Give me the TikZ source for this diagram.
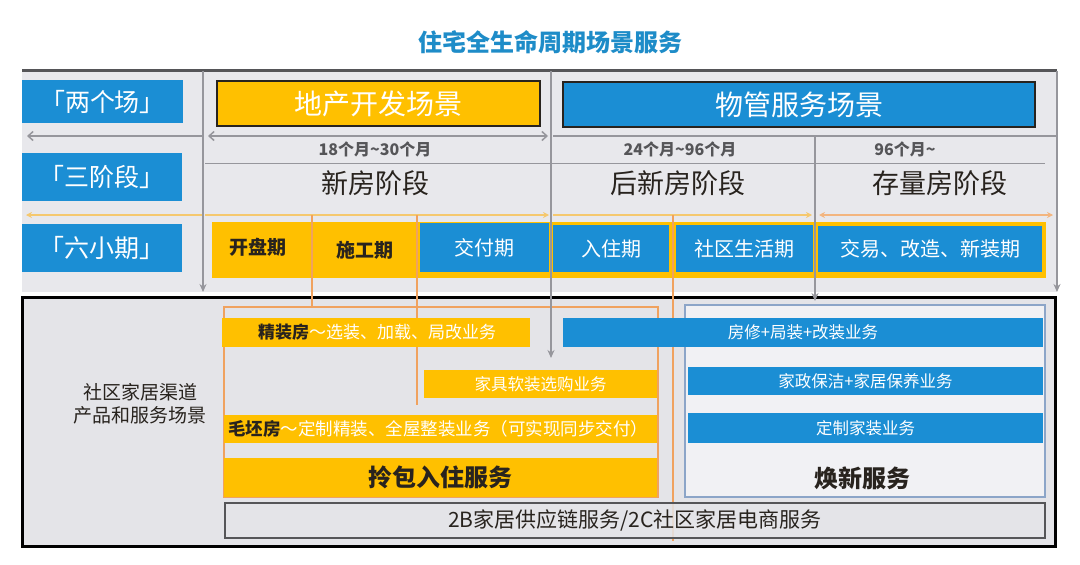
\documentclass[tikz,border=0pt]{standalone}
\usepackage{fontspec}
\setmainfont{Noto Sans CJK SC}
\usetikzlibrary{arrows.meta}
\definecolor{cblue}{RGB}{27,142,212}
\definecolor{cyel}{RGB}{255,192,0}
\definecolor{corg}{RGB}{240,162,95}
\definecolor{cline}{RGB}{245,200,110}
\definecolor{cpanel}{RGB}{232,232,236}
\definecolor{cbox}{RGB}{228,228,232}
\definecolor{ctitle}{RGB}{30,140,200}
\definecolor{cgray}{RGB}{150,150,156}
\definecolor{cdarkgray}{RGB}{85,85,88}
\definecolor{cframe}{RGB}{140,165,200}
\definecolor{ctext}{RGB}{40,35,30}
\newcommand{\fs}[1]{\fontsize{#1}{#1}\selectfont}
\tikzset{
  lblbox/.style={fill=cblue,text=white,inner sep=0pt,font=\fs{25}},
  scenebox/.style={draw=ctext,line width=1.2pt,inner sep=0pt,text=white,font=\fs{28}},
  ybar/.style={fill=cyel,inner sep=0pt},
  bbar/.style={fill=cblue,inner sep=0pt,text=white,font=\fs{16.5}},
  period/.style={font=\fs{20}},
  stage/.style={font=\fs{27},text=ctext},
  month/.style={font=\bfseries\fs{16},text=cdarkgray},
  gline/.style={draw=cgray,line width=1.8pt},
  oline/.style={draw=corg,line width=2.2pt},
  garrow/.style={-{Stealth[length=8pt,width=7pt]}},
}
\begin{document}
\begin{tikzpicture}[x=1pt,y=-1pt]
\useasboundingbox[fill=white] (0,0) rectangle (1080,565);

% title
\node[font=\bfseries\fs{24},text=ctitle] (title) at (550,42) {住宅全生命周期场景服务};

% top panel
\fill[cpanel] (22,70) rectangle (1057,292);
\draw[cdarkgray,line width=3pt] (22,70) -- (1057,70);

% left labels
\node[lblbox,minimum width=161pt,minimum height=43pt] (two) at (102.5,101.5) {「两个场」};
\node[lblbox,minimum width=160pt,minimum height=48pt] (three) at (102,177) {「三阶段」};
\node[lblbox,minimum width=160pt,minimum height=48pt] (six) at (102,248) {「六小期」};

% scene boxes
\node[scenebox,fill=cyel,minimum width=323pt,minimum height=45pt] (dev) at (378.5,103.5) {地产开发场景};
\node[scenebox,fill=cblue,minimum width=472pt,minimum height=45pt] (pm) at (799,104.5) {物管服务场景};

% coordinates for lines
\coordinate (v1t) at (203,71);   \coordinate (v1b) at (203,292);
\coordinate (v2t) at (551,71);   \coordinate (v2b) at (551,358);
\coordinate (v3t) at (815,137);  \coordinate (v3b) at (815,301);
\coordinate (v4t) at (1057,71);  \coordinate (v4b) at (1057,292);
\coordinate (h1a) at (203,136);  \coordinate (h1b) at (27,136);
\coordinate (h2a) at (208,136);  \coordinate (h2b) at (548,136);
\coordinate (h3a) at (553,136);  \coordinate (h3b) at (1057,136);
\coordinate (t1a) at (205,163);  \coordinate (t1b) at (1045,163);
\coordinate (o1a) at (203,215);  \coordinate (o1b) at (26,215);
\coordinate (o2a) at (205,215);  \coordinate (o2b) at (549,215);
\coordinate (o3a) at (553,215);  \coordinate (o3b) at (812,215);
\coordinate (o4a) at (819,215);  \coordinate (o4b) at (1053,215);
\coordinate (p1t) at (312,215);  \coordinate (p1b) at (312,307);
\coordinate (p2t) at (417,215);  \coordinate (p2b) at (417,405);
\coordinate (p3t) at (673,215);  \coordinate (p3b) at (673,541);

% month / stage texts
\draw[draw=cgray,line width=1pt] (t1a) -- (t1b);
\node[month] (m1) at (375,149) {18个月\textasciitilde30个月};
\node[month] (m2) at (680,149) {24个月\textasciitilde96个月};
\node[month] (m3) at (905,149) {96个月\textasciitilde};
\node[stage] (s1) at (375,183) {新房阶段};
\node[stage] (s2) at (678,183) {后新房阶段};
\node[stage] (s3) at (940,183) {存量房阶段};

% gray horizontal arrows
\draw[gline,line width=1.5pt,-{Straight Barb[length=5pt,width=9pt]}] (h1a) -- (h1b);
\draw[gline,line width=1.5pt,{Straight Barb[length=5pt,width=9pt]}-{Straight Barb[length=5pt,width=9pt]}] (h2a) -- (h2b);
\draw[gline,line width=1.5pt] (h3a) -- (h3b);

% yellow/orange timeline
\draw[draw=cline,line width=2.2pt,-{Stealth[length=6pt,width=6pt]}] (o1a) -- (o1b);
\draw[draw=cline,line width=2.2pt,-{Stealth[length=6pt,width=6pt]}] (o2a) -- (o2b);
\draw[draw=cline,line width=2.2pt,-{Stealth[length=6pt,width=6pt]}] (o3a) -- (o3b);
\draw[draw=corg!80,line width=2pt,{Stealth[length=6pt,width=6pt]}-{Stealth[length=6pt,width=6pt]}] (o4a) -- (o4b);

% six periods row
\node[ybar,minimum width=834pt,minimum height=56pt] (rowbg) at (629,250) {};
\node[bbar,period,minimum width=129pt,minimum height=49pt] (jf) at (484.5,247.5) {交付期};
\node[bbar,period,minimum width=116pt,minimum height=47pt] (rz) at (611,248.5) {入住期};
\node[bbar,period,minimum width=137pt,minimum height=47pt] (sq) at (744.5,248.5) {社区生活期};
\node[bbar,period,minimum width=224pt,minimum height=46pt] (jy) at (930,249) {交易、改造、新装期};
\node[period,text=ctext,font=\bfseries\fs{19}] (kp) at (258,247) {开盘期};
\node[period,text=ctext,font=\bfseries\fs{19}] (sg) at (365,250) {施工期};

% lower box
\draw[fill=cbox,line width=3pt] (22,297) rectangle (1055,546);
\node[font=\fs{19},text=ctext,align=center] (chan) at (140,404) {社区家居渠道\\[4pt]产品和服务场景};
\draw[corg,line width=2pt] (224,307) rectangle (658,497);
\draw[cframe,fill=cpanel!60!white,line width=2pt] (685,305) rectangle (1045,497);

% orange verticals (behind the bars)
\draw[oline] (p1t) -- (p1b);
\draw[oline] (p2t) -- (p2b);
\draw[oline] (p3t) -- (p3b);

% bars
\node[ybar,minimum width=308pt,minimum height=29pt] (jz) at (376,332.5) {};
\node[font=\fs{17},anchor=west,inner sep=0pt] (jzt) at (258,332.5) {{\color{ctext}\bfseries 精装房}\color{white}～选装、加载、局改业务};
\node[bbar,minimum width=480pt,minimum height=29pt] (fx) at (803,332.5) {房修+局装+改装业务};
\node[ybar,minimum width=233pt,minimum height=28pt,text=white,font=\fs{16.5}] (jj) at (540.5,384) {家具软装选购业务};
\node[bbar,minimum width=355pt,minimum height=28pt] (jzb) at (865.5,381) {家政保洁+家居保养业务};
\node[bbar,minimum width=355pt,minimum height=30pt] (dz) at (865.5,428) {定制家装业务};
\node[ybar,minimum width=433pt,minimum height=28pt] (mp) at (440.5,429) {};
\node[font=\fs{17.5},anchor=west,inner sep=0pt] (mpt) at (228,429) {{\color{ctext}\bfseries 毛坯房}\color{white}～定制精装、全屋整装业务（可实现同步交付）};
\node[ybar,minimum width=433pt,minimum height=39pt,font=\bfseries\fs{24},text=ctext] (lb) at (440.5,477.5) {拎包入住服务};
\node[font=\bfseries\fs{24},text=ctext] (hx) at (862,478) {焕新服务};
\node[draw=cdarkgray,fill=cbox,fill opacity=0.85,text opacity=1,line width=1.2pt,minimum width=820pt,minimum height=35pt,inner sep=0pt,font=\fs{21},text=ctext] (b2b) at (635,520.5) {2B家居供应链服务/2C社区家居电商服务};

% gray verticals
\draw[gline,garrow] (v1t) -- (v1b);
\draw[gline,garrow] (v2t) -- (v2b);
\draw[gline,garrow] (v3t) -- (v3b);
\draw[gline,garrow] (v4t) -- (v4b);
\end{tikzpicture}
\end{document}
